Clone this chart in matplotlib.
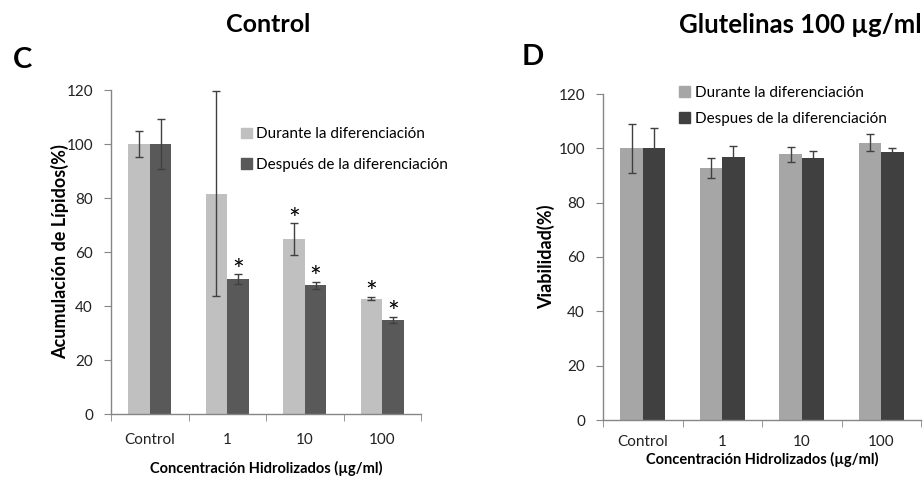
import numpy as np
import matplotlib
matplotlib.use("Agg")
import matplotlib.pyplot as plt
from matplotlib.patches import Patch

plt.rcParams["font.family"] = ["Lato", "DejaVu Sans"]

categories = ["Control", "1", "10", "100"]

# panel C - lipid accumulation
lip_during = [100, 81.6, 64.7, 42.7]
lip_during_err = [4.9, 37.9, 5.9, 0.6]
lip_after = [100, 50.0, 47.6, 34.9]
lip_after_err = [9.3, 1.7, 1.4, 1.2]
lip_during_sig = [False, False, True, True]
lip_after_sig = [False, True, True, True]

# panel D - viability
via_during = [100, 92.8, 97.8, 102.1]
via_during_err = [9.0, 3.8, 2.7, 3.2]
via_after = [100, 96.8, 96.3, 98.8]
via_after_err = [7.6, 4.0, 2.7, 1.2]

AXIS_GREY = "#868686"
W, H = 924, 480


def style_axes(ax, xpad=14):
    for s in ["top", "right"]:
        ax.spines[s].set_visible(False)
    for s in ["left", "bottom"]:
        ax.spines[s].set_color(AXIS_GREY)
        ax.spines[s].set_linewidth(1.0)
    ax.set_ylim(0, 120)
    ax.set_yticks(np.arange(0, 121, 20))
    ax.set_xlim(-0.5, 3.5)
    ax.set_xticks(np.arange(4))
    ax.set_xticklabels(categories)
    ax.set_xticks(np.arange(-0.5, 3.6, 1), minor=True)
    ax.tick_params(axis="x", which="major", length=0, pad=xpad, labelsize=11, colors="#222222")
    ax.tick_params(axis="x", which="minor", length=5, color=AXIS_GREY, direction="out")
    ax.tick_params(axis="y", length=5, labelsize=11, pad=8, colors=AXIS_GREY, labelcolor="#222222")


def draw_pairs(ax, during, d_err, after, a_err, c1, c2):
    x = np.arange(len(categories))
    bw = 0.28
    ekw = dict(ecolor="#404040", elinewidth=1.0, capsize=3, capthick=1.0)
    ax.bar(x - bw / 2, during, bw, color=c1, yerr=d_err, error_kw=ekw, zorder=2)
    ax.bar(x + bw / 2, after, bw, color=c2, yerr=a_err, error_kw=ekw, zorder=2)
    return x, bw


fig = plt.figure(figsize=(W / 100, H / 100), dpi=100)

# ---- panel C ----
axC = fig.add_axes([111 / W, 1 - 414 / H, (421 - 111) / W, (414 - 90) / H])
style_axes(axC)
x, bw = draw_pairs(axC, lip_during, lip_during_err, lip_after, lip_after_err,
                   "#c0c0c0", "#595959")
for i in range(len(categories)):
    if lip_during_sig[i]:
        axC.text(x[i] - bw / 2, lip_during[i] + lip_during_err[i] - 2.0, "*",
                 ha="center", va="baseline", fontsize=20, color="black")
    if lip_after_sig[i]:
        axC.text(x[i] + bw / 2, lip_after[i] + lip_after_err[i] - 2.0, "*",
                 ha="center", va="baseline", fontsize=20, color="black")
axC.set_ylabel("Acumulación de Lípidos(%)", fontsize=13, fontweight="bold", labelpad=-2)
axC.set_xlabel("Concentración Hidrolizados (µg/ml)", fontsize=10.5, fontweight="bold", labelpad=10)
handles = [Patch(color="#c0c0c0", label="Durante la diferenciación"),
           Patch(color="#595959", label="Después de la diferenciación")]
axC.legend(handles=handles, loc="upper left", bbox_to_anchor=(0.42, 0.885), frameon=False,
           fontsize=11, handlelength=0.7, handleheight=0.7, handletextpad=0.3,
           labelspacing=1.1, borderaxespad=0, borderpad=0)

fig.text(268 / W, 1 - 25 / H, "Control", ha="center", va="center", fontsize=18, fontweight="bold")
fig.text(23 / W, 1 - 60 / H, "C", ha="center", va="center", fontsize=21, fontweight="bold")

# ---- panel D ----
axD = fig.add_axes([603 / W, 1 - 420 / H, (921 - 603) / W, (420 - 94) / H])
style_axes(axD, xpad=11)
draw_pairs(axD, via_during, via_during_err, via_after, via_after_err, "#a6a6a6", "#404040")
axD.set_ylabel("Viabilidad(%)", fontsize=13, fontweight="bold", labelpad=2)
axD.set_xlabel("Concentración Hidrolizados (µg/ml)", fontsize=10.5, fontweight="bold", labelpad=2)
handles = [Patch(color="#a6a6a6", label="Durante la diferenciación"),
           Patch(color="#404040", label="Despues de la diferenciación")]
axD.legend(handles=handles, loc="upper left", bbox_to_anchor=(0.24, 1.025), frameon=False,
           fontsize=11, handlelength=0.7, handleheight=0.7, handletextpad=0.3,
           labelspacing=0.8, borderaxespad=0, borderpad=0)

fig.text(800 / W, 1 - 25 / H, "Glutelinas 100 µg/ml", ha="center", va="center",
         fontsize=18.5, fontweight="bold")
fig.text(533 / W, 1 - 57 / H, "D", ha="center", va="center", fontsize=21, fontweight="bold")

fig.savefig("out.png", dpi=100)
